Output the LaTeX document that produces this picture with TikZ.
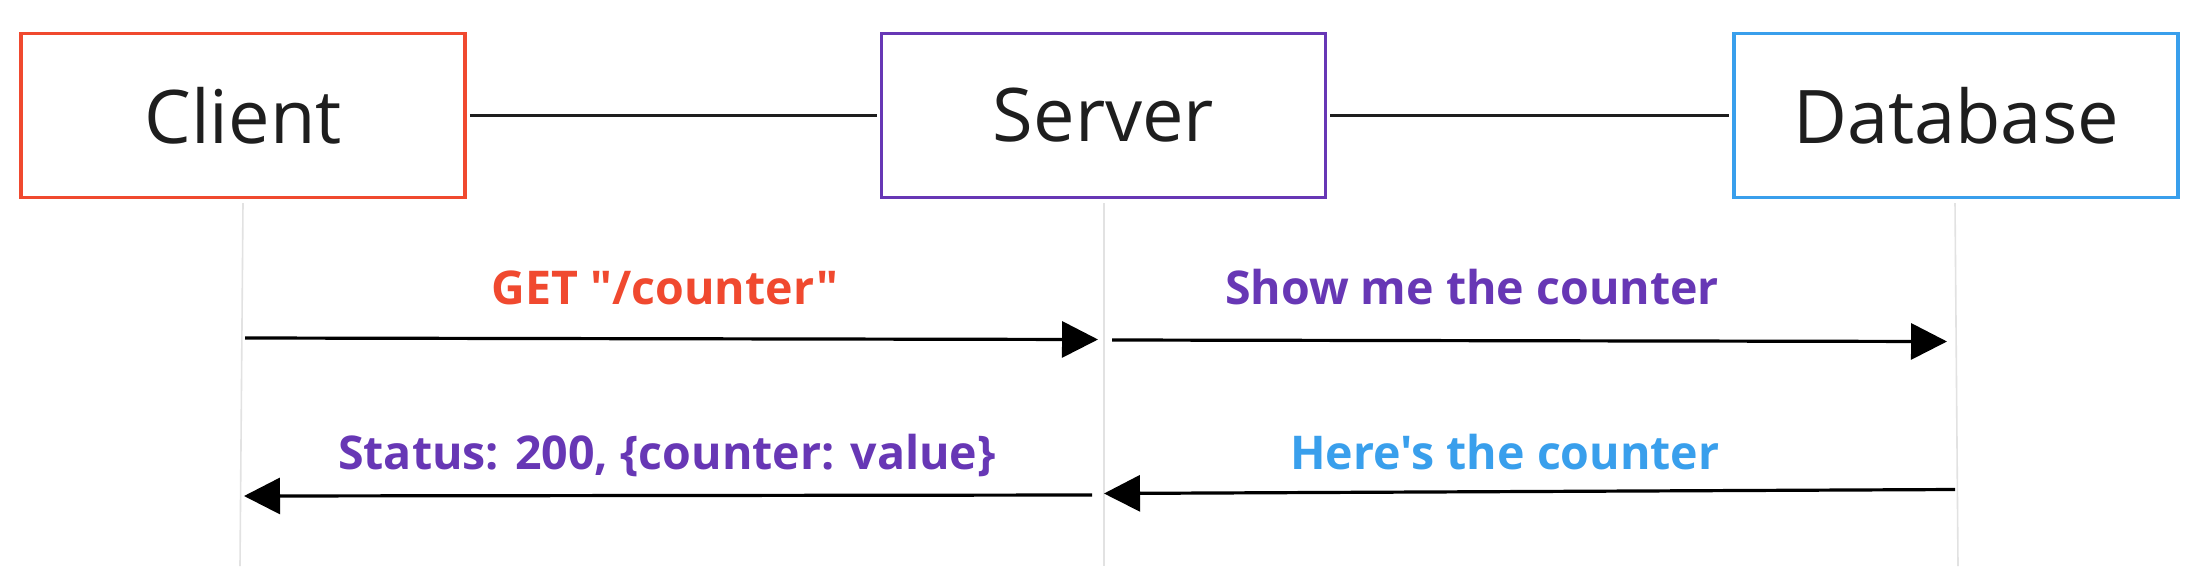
\documentclass[tikz,border=0pt]{standalone}
\usepackage{fontspec}
\setmainfont{Open Sans}[Ligatures=TeXOff]
\usetikzlibrary{arrows.meta}
\definecolor{cred}{HTML}{F0492F}
\definecolor{cpurple}{HTML}{6737B5}
\definecolor{cblue}{HTML}{399FEC}
\definecolor{cline}{HTML}{E2E2E2}
\definecolor{ctext}{HTML}{1E1E1E}
\begin{document}
\begin{tikzpicture}[x=1pt,y=-1pt,
  actor/.style={draw=#1, line width=3.5pt, minimum width=444pt, minimum height=164pt, inner sep=0pt, font=\fontsize{74}{80}\selectfont, text=ctext},
  link/.style={draw=ctext, line width=2.2pt},
  life/.style={draw=cline, line width=1.6pt},
  msg/.style={draw=black, line width=3.2pt, -{Triangle[length=36pt,width=36pt]}},
  lbl/.style={anchor=base, font=\fontsize{46.5}{50}\selectfont\bfseries, text=#1, inner sep=0pt}]
\useasboundingbox (0,0) rectangle (2212,566);
\fill[white] (0,0) rectangle (2212,566);
% actors
\node[actor=cred] (client) at (243,115.5) {Client};
\node[actor=cpurple] (server) at (1103.5,115.5) {Server};
\node[actor=cblue] (db) at (1956,115.5) {Database};
% links between actors
\draw[link] ([xshift=3pt]client.east) -- ([xshift=-3pt]server.west);
\draw[link] ([xshift=3pt]server.east) -- ([xshift=-3pt]db.west);
% lifelines
\coordinate (cl0) at (243,203); \coordinate (cl1) at (240,566);
\coordinate (sl0) at (1104,203); \coordinate (sl1) at (1104,566);
\coordinate (dl0) at (1955,203); \coordinate (dl1) at (1958,566);
\draw[life] (cl0) -- (cl1);
\draw[life] (sl0) -- (sl1);
\draw[life] (dl0) -- (dl1);
% message endpoints
\coordinate (m1a) at (245,338); \coordinate (m1b) at (1098,339.5);
\coordinate (m2a) at (1112,340); \coordinate (m2b) at (1947,341.5);
\coordinate (m3a) at (1955,489.5); \coordinate (m3b) at (1104,493.5);
\coordinate (m4a) at (1092,495); \coordinate (m4b) at (244,496);
\draw[msg] (m1a) -- (m1b);
\draw[msg] (m2a) -- (m2b);
\draw[msg] (m3a) -- (m3b);
\draw[msg] (m4a) -- (m4b);
% labels
\node[lbl=cred] (l1) at (665,304) {GET "/counter"};
\node[lbl=cpurple] (l2) at (1472,304) {Show me the counter};
\node[lbl=cpurple] (l3) at (667,469) {Status: 200, \{counter: value\}};
\node[lbl=cblue] (l4) at (1505,469) {Here's the counter};
\end{tikzpicture}
\end{document}
